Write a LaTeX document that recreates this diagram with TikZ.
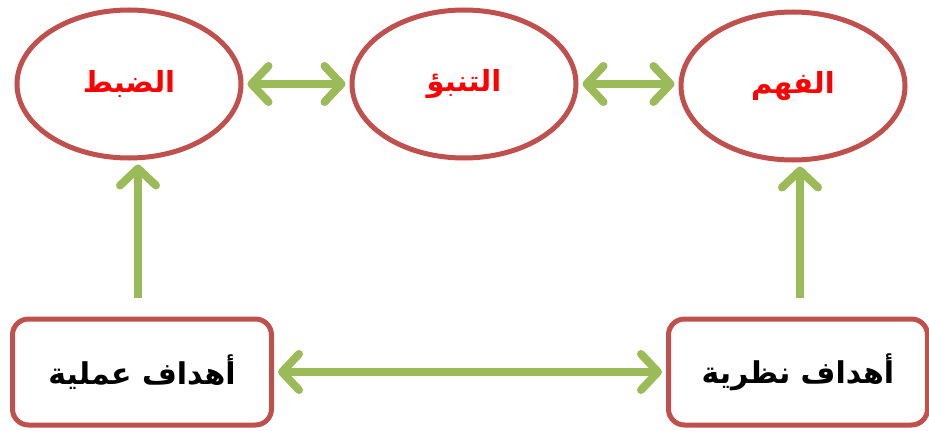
\documentclass[tikz,border=0pt]{standalone}
\usepackage{fontspec}
\usetikzlibrary{arrows.meta,shapes.geometric}
\TeXXeTstate=1
\newfontfamily\arabicfont[Script=Arabic]{DejaVu Sans}
\definecolor{ered}{HTML}{C0504D}
\definecolor{agreen}{HTML}{9BBB59}
\tikzset{
  x=1pt,y=-1pt,
  ell/.style={ellipse,draw=ered,line width=5pt,fill=white,minimum width=224pt,minimum height=148pt,inner sep=0pt,
    font=\arabicfont\bfseries\fontsize{29}{32}\selectfont,text=red},
  boxn/.style={rectangle,rounded corners=16pt,draw=ered,line width=5pt,fill=white,minimum width=259pt,minimum height=106pt,inner sep=0pt,
    font=\arabicfont\bfseries\fontsize{30}{34}\selectfont,text=black},
  tipg/.tip={Straight Barb[length=17pt,width=36pt,line cap=round,line join=round]},
  garrow/.style={draw=agreen,line width=8pt,line cap=round,arrows={tipg-tipg}},
  garrowone/.style={draw=agreen,line width=8pt,arrows={-tipg}},
}
\begin{document}
\begin{tikzpicture}
\useasboundingbox (0,0) rectangle (929,431);
\fill[white] (0,0) rectangle (929,431);
\node[ell] (dabt) at (129,84) {\beginR الضبط\endR};
\node[ell] (tanab) at (464,84) {\beginR التنبؤ\endR};
\node[ell] (fahm) at (793,86) {\beginR الفهم\endR};
\node[boxn] (amal) at (142,372) {\beginR أهداف عملية\endR};
\node[boxn] (nazar) at (798,372) {\beginR أهداف نظرية\endR};
\draw[garrow] ([xshift=4pt]dabt.east) -- ([xshift=-4pt]tanab.west);
\draw[garrow] ([xshift=4pt]tanab.east) -- ([xshift=-4pt]tanab.east -| fahm.west);
\draw[garrow] ([xshift=4pt]amal.east) -- ([xshift=-4pt]nazar.west);
\coordinate (la) at (138,298);
\coordinate (ra) at (800,298);
\draw[garrowone] (la) -- ([yshift=-4pt]la |- dabt.south);
\draw[garrowone] (ra) -- ([yshift=-4pt]ra |- fahm.south);
\end{tikzpicture}
\end{document}
